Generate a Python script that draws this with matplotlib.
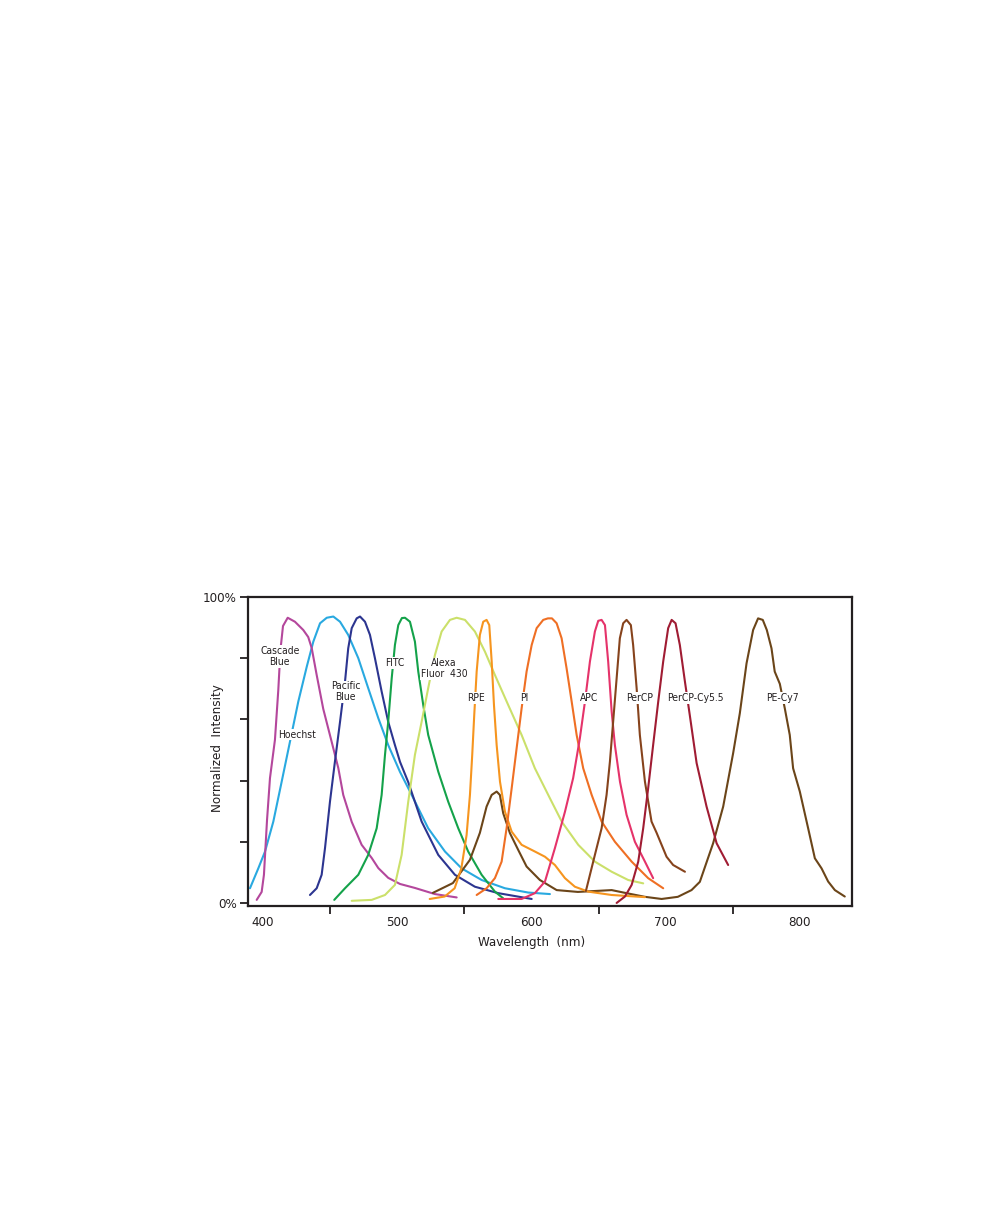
import matplotlib
matplotlib.use('Agg')
import matplotlib.pyplot as plt

plt.rcParams['font.family'] = ['DejaVu Sans']
plt.rcParams['font.stretch'] = 'condensed'

# emission spectra (wavelength nm, normalized intensity %)
cascade_wl = [395.3, 399.0, 400.7, 403.0, 405.2, 408.9, 411.4, 413.0, 414.9, 418.4, 423.8, 430.0, 433.7,
              436.3, 440.0, 444.9, 451.2, 456.1, 459.8, 466.1, 473.5, 481.0, 485.9, 493.3, 502.1, 513.2,
              528.1, 544.3]
cascade_i = [1.0, 3.6, 9.2, 27.1, 40.8, 53.3, 69.6, 82.7, 90.5, 93.2, 91.9, 89.2, 86.9,
             83.3, 74.5, 63.4, 52.6, 44.1, 35.3, 26.5, 19.0, 14.7, 11.4, 8.2, 6.2, 4.9,
             2.9, 1.8]

hoechst_wl = [390.3, 396.5, 401.5, 407.7, 413.9, 420.1, 426.3, 432.6, 437.5, 442.5, 447.5, 452.4, 457.4,
              463.5, 471.0, 478.4, 485.9, 493.3, 502.1, 510.8, 523.1, 535.6, 548.0, 562.9, 580.3, 597.6,
              613.8]
hoechst_i = [4.8, 11.3, 16.8, 26.6, 39.6, 52.7, 65.8, 77.2, 85.4, 91.4, 93.2, 93.6, 91.9,
             87.6, 80.0, 70.2, 60.4, 51.6, 42.8, 35.3, 24.4, 16.8, 11.3, 7.5, 4.8, 3.4,
             2.9]

pacific_wl = [435.0, 440.0, 443.7, 446.2, 449.9, 453.6, 457.4, 461.1, 463.5, 466.1, 469.8, 472.3, 476.0,
              479.7, 483.4, 488.4, 493.3, 498.3, 502.1, 508.2, 518.2, 530.6, 543.0, 557.9, 575.3, 600.2]
pacific_i = [2.6, 4.8, 9.2, 17.9, 33.1, 46.2, 59.2, 72.3, 83.2, 89.8, 93.0, 93.6, 91.9,
             87.6, 80.0, 69.1, 59.2, 51.6, 46.1, 39.5, 26.6, 15.7, 9.2, 5.3, 3.2, 1.3]

fitc_wl = [453.1, 461.1, 471.0, 478.4, 484.7, 488.4, 490.9, 493.3, 495.9, 498.3, 500.8, 503.5, 505.8,
           509.5, 513.2, 515.7, 519.4, 523.1, 530.6, 538.0, 545.5, 552.9, 562.9, 572.8, 579.0]
fitc_i = [1.0, 4.8, 9.2, 15.7, 24.4, 35.3, 48.4, 59.2, 73.4, 84.3, 90.8, 93.1, 93.2,
          91.9, 85.4, 75.6, 64.7, 54.9, 42.9, 33.1, 24.4, 16.8, 9.2, 3.7, 1.5]

alexa_wl = [466.1, 481.0, 490.9, 498.3, 503.3, 508.2, 513.2, 518.2, 523.1, 528.1, 533.1, 539.3, 544.3,
            550.5, 557.9, 565.4, 572.8, 582.7, 592.7, 602.6, 613.8, 622.7, 634.9, 647.3, 659.8, 672.1,
            683.3]
alexa_i = [0.7, 1.0, 2.6, 5.9, 15.7, 33.0, 48.4, 59.2, 70.2, 81.0, 88.7, 92.5, 93.2,
           92.5, 88.7, 82.1, 74.5, 64.7, 54.9, 44.0, 34.2, 26.5, 19.0, 13.5, 10.2, 7.5,
           6.4]

rpe_wl = [524.2, 535.4, 542.8, 547.8, 551.7, 554.2, 555.9, 557.4, 559.2, 561.6, 564.1, 566.6, 568.6,
          570.4, 572.1, 574.1, 576.6, 580.3, 585.3, 592.7, 602.6, 610.1, 617.5, 625.0, 632.4, 642.3,
          659.8, 684.6]
rpe_i = [1.3, 2.1, 4.8, 11.3, 22.2, 35.3, 48.4, 61.4, 75.6, 87.6, 91.9, 92.5, 90.8,
         78.9, 64.7, 51.6, 39.6, 29.8, 23.3, 19.0, 16.8, 15.1, 12.4, 8.1, 5.3, 3.7,
         2.6, 1.9]

pi_wl = [559.2, 566.6, 572.8, 577.8, 581.5, 585.3, 589.0, 592.7, 596.4, 600.2, 603.9, 608.8, 612.3,
         615.3, 618.8, 622.5, 626.2, 630.0, 633.7, 638.6, 644.9, 652.3, 662.2, 674.7, 687.0, 698.2]
pi_i = [2.6, 4.8, 8.1, 13.5, 24.4, 37.5, 50.6, 63.6, 75.6, 84.3, 89.8, 92.5, 93.0,
        93.0, 91.4, 86.5, 76.7, 65.8, 54.9, 44.0, 35.3, 26.6, 20.0, 13.5, 8.1, 4.8]

apc_wl = [575.3, 592.7, 602.6, 610.1, 617.5, 625.0, 631.1, 636.1, 639.9, 643.6, 647.3, 649.8, 652.3,
          654.8, 657.2, 659.8, 662.2, 666.0, 670.9, 677.1, 684.6, 690.7]
apc_i = [1.3, 1.3, 3.2, 7.0, 17.9, 29.8, 40.8, 53.8, 65.8, 78.9, 88.7, 92.2, 92.5,
         90.8, 78.9, 62.5, 51.6, 39.6, 28.8, 20.0, 13.5, 8.1]

percp_wl = [640.6, 647.3, 652.3, 656.0, 658.5, 660.9, 663.5, 665.9, 668.4, 670.9, 674.1, 675.8, 678.4,
            680.8, 684.6, 689.5, 693.3, 700.7, 705.6, 714.4]
percp_i = [3.9, 15.7, 24.4, 35.3, 46.2, 59.2, 73.4, 86.5, 91.4, 92.5, 90.8, 84.3, 70.2,
           54.9, 39.6, 26.6, 22.9, 15.1, 12.4, 10.2]

cy55_wl = [663.5, 669.7, 674.7, 679.6, 683.3, 687.0, 690.7, 694.5, 698.2, 701.9, 704.5, 707.4, 710.6,
           714.4, 718.1, 723.1, 730.5, 738.0, 746.6]
cy55_i = [0.0, 2.1, 5.9, 13.5, 24.4, 37.5, 51.6, 65.8, 78.9, 89.8, 92.5, 91.4, 84.3,
          72.3, 61.1, 45.7, 31.5, 19.5, 12.4]

pecy7_wl = [526.6, 541.5, 554.2, 561.6, 566.6, 570.4, 574.1, 576.5, 579.0, 584.0, 590.2, 596.4, 606.3,
            618.8, 634.6, 659.8, 669.7, 684.6, 697.0, 709.1, 719.3, 725.5, 735.4, 742.9, 750.3, 755.3,
            760.3, 765.2, 768.9, 772.4, 775.4, 778.9, 781.3, 785.1, 788.8, 792.5, 795.0, 800.0, 806.2,
            811.2, 816.2, 821.1, 826.1, 833.5]
pecy7_i = [3.3, 6.5, 14.1, 22.9, 31.5, 35.3, 36.4, 35.3, 29.3, 22.8, 17.3, 11.9, 7.5,
           4.2, 3.6, 4.2, 3.3, 2.0, 1.3, 2.0, 4.2, 6.9, 19.5, 31.5, 48.9, 62.0,
           78.3, 89.2, 93.0, 92.5, 89.2, 83.2, 75.6, 71.6, 63.6, 54.9, 44.0, 36.4, 24.4,
           14.6, 11.3, 7.0, 4.2, 2.1]

series = [
    (hoechst_wl, hoechst_i, '#29a9e0'),
    (cascade_wl, cascade_i, '#b4479c'),
    (pacific_wl, pacific_i, '#2c3590'),
    (fitc_wl, fitc_i, '#14a24a'),
    (alexa_wl, alexa_i, '#cbe06a'),
    (pecy7_wl, pecy7_i, '#6b4519'),
    (rpe_wl, rpe_i, '#f6951f'),
    (pi_wl, pi_i, '#ef6f24'),
    (apc_wl, apc_i, '#e5336a'),
    (percp_wl, percp_i, '#86431c'),
    (cy55_wl, cy55_i, '#a01c33'),
]

# dye names and where they sit (wavelength, intensity)
dye_names = ['Cascade\nBlue', 'Hoechst', 'Pacific\nBlue', 'FITC', 'Alexa\nFluor  430',
             'RPE', 'PI', 'APC', 'PerCP', 'PerCP-Cy5.5', 'PE-Cy7']
label_wl = [412.5, 425.0, 461.5, 498.0, 535.0, 559.0, 595.0, 643.0, 681.0, 722.5, 787.0]
label_i = [80.5, 55.0, 69.0, 78.5, 76.5, 67.0, 67.0, 67.0, 67.0, 67.0, 67.0]

fig = plt.figure(figsize=(10.08, 12.24), dpi=100)
ax = fig.add_axes([0.246, 0.2598, 0.599, 0.2525])

for wl, inten, col in series:
    ax.plot(wl, inten, color=col, linewidth=1.5, solid_joinstyle='round', solid_capstyle='round')

for name, x, y in zip(dye_names, label_wl, label_i):
    ax.text(x, y, name, fontsize=7.4, ha='center', va='center', color='#231f20', linespacing=1.1,
            bbox=dict(facecolor='white', edgecolor='none', pad=0.6))

ax.set_xlim(388.8, 838.7)
ax.set_ylim(-1, 100)

ax.set_xticks([400, 500, 600, 700, 800])
ax.set_xticks([450, 550, 650, 750], minor=True)
ax.tick_params(axis='x', which='major', length=0, labelsize=9.5, pad=7, colors='#231f20')
ax.tick_params(axis='x', which='minor', length=6, width=1.3, direction='out', color='#231f20')

ax.set_yticks([0, 20, 40, 60, 80, 100])
ax.set_yticklabels(['0%', '', '', '', '', '100%'])
ax.tick_params(axis='y', length=6, width=1.3, direction='out', labelsize=9.5, pad=2, colors='#231f20')

for sp in ax.spines.values():
    sp.set_linewidth(1.6)
    sp.set_color('#231f20')

ax.set_xlabel('Wavelength  (nm)', fontsize=9.5, color='#231f20')
ax.set_ylabel('Normalized  Intensity', fontsize=9.5, color='#231f20')
ax.xaxis.set_label_coords(0.469, -0.097)
ax.yaxis.set_label_coords(-0.04, 0.51)

plt.savefig('out.png', dpi=100)
plt.close()
